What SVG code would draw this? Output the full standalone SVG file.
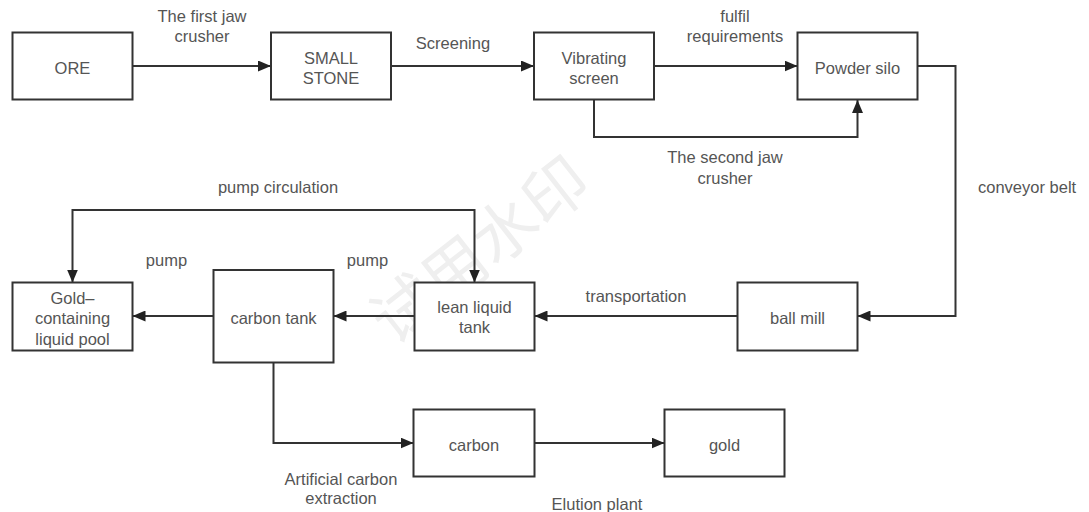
<svg xmlns="http://www.w3.org/2000/svg" width="1089" height="512" viewBox="0 0 1089 512">
<style>
.box{fill:#fff;stroke:#333;stroke-width:2}
.t{font-family:"Liberation Sans",Arial,sans-serif;font-size:16.5px;fill:#555;text-anchor:middle}
.ts{text-anchor:start}
.c{fill:none;stroke:#333;stroke-width:2}
.a{marker-end:url(#ar)}
.wm{font-family:"Noto Sans CJK SC",sans-serif;font-size:64px;fill:#efefef;text-anchor:middle}
</style>
<defs>
<marker id="ar" markerUnits="userSpaceOnUse" markerWidth="14" markerHeight="11" refX="13" refY="5.5" orient="auto-start-reverse">
<path d="M0,0 L13,5.5 L0,11 z" fill="#222"/>
</marker>
</defs>
<rect width="1089" height="512" fill="#fff"/>
<text class="wm" transform="translate(494,268) rotate(-38)">试用水印</text>
<g id="connectors">
<path class="c a" d="M133,66 H271"/>
<path class="c a" d="M391,66 H534"/>
<path class="c a" d="M654,66 H797.5"/>
<path class="c a" d="M594,100 V137 H857.5 V100"/>
<path class="c a" d="M917.5,66 H955.5 V316 H857.5"/>
<path class="c a" d="M737.5,316 H534.5"/>
<path class="c a" d="M414.5,316 H333.5"/>
<path class="c a" d="M213.5,316 H132.5"/>
<path class="c a" d="M72.5,282.5 V210 H474.5 V282.5" marker-start="url(#ar)"/>
<path class="c a" d="M273.5,362.5 V443 H413.5"/>
<path class="c a" d="M534.5,443 H664.5"/>
</g>
<g id="edge-labels">
<text class="t" x="202" y="22">The first jaw</text>
<text class="t" x="202" y="42">crusher</text>
<text class="t" x="453" y="49">Screening</text>
<text class="t" x="735" y="22">fulfil</text>
<text class="t" x="735" y="42">requirements</text>
<text class="t" x="725" y="163">The second jaw</text>
<text class="t" x="725" y="183.5">crusher</text>
<text class="t ts" x="978" y="193">conveyor belt</text>
<text class="t" x="278" y="193">pump circulation</text>
<text class="t" x="166.5" y="265.5">pump</text>
<text class="t" x="367.5" y="265.5">pump</text>
<text class="t" x="636" y="302">transportation</text>
<text class="t" x="341" y="484.5">Artificial carbon</text>
<text class="t" x="341" y="504">extraction</text>
<text class="t" x="597" y="509.5">Elution plant</text>
</g>
<g id="ore"><rect class="box" x="12.5" y="32.5" width="120" height="67"/><text class="t" x="72.5" y="74">ORE</text></g>
<g id="small-stone"><rect class="box" x="271" y="32.5" width="120" height="67"/><text class="t" x="331" y="64">SMALL</text><text class="t" x="331" y="84">STONE</text></g>
<g id="vibrating-screen"><rect class="box" x="534" y="32.5" width="120" height="67"/><text class="t" x="594" y="64">Vibrating</text><text class="t" x="594" y="84">screen</text></g>
<g id="powder-silo"><rect class="box" x="797.5" y="32.5" width="120" height="67"/><text class="t" x="857.5" y="74">Powder silo</text></g>
<g id="gold-pool"><rect class="box" x="12.5" y="282.5" width="120" height="68"/><text class="t" x="72.5" y="304">Gold–</text><text class="t" x="72.5" y="324">containing</text><text class="t" x="72.5" y="344.5">liquid pool</text></g>
<g id="carbon-tank"><rect class="box" x="213.5" y="270" width="120" height="92.5"/><text class="t" x="273.5" y="324">carbon tank</text></g>
<g id="lean-liquid-tank"><rect class="box" x="414.5" y="282.5" width="120" height="68"/><text class="t" x="474.5" y="313">lean liquid</text><text class="t" x="474.5" y="333">tank</text></g>
<g id="ball-mill"><rect class="box" x="737.5" y="282.5" width="120" height="68"/><text class="t" x="797.5" y="324">ball mill</text></g>
<g id="carbon"><rect class="box" x="413.5" y="409.5" width="121" height="67"/><text class="t" x="474" y="451">carbon</text></g>
<g id="gold"><rect class="box" x="664.5" y="409.5" width="120" height="67"/><text class="t" x="724.5" y="451">gold</text></g>
</svg>
